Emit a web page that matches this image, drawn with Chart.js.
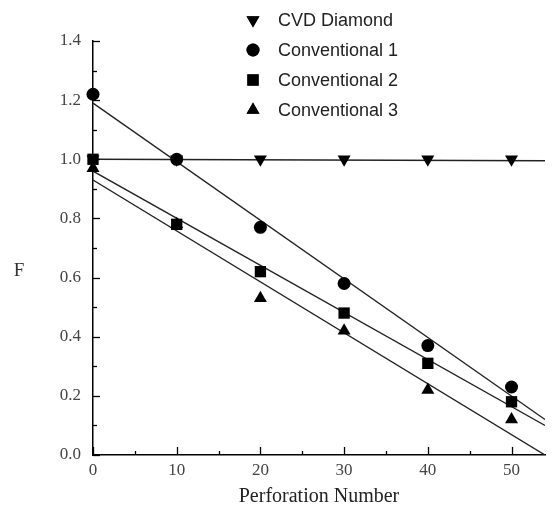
<!DOCTYPE html>
<html>
<head>
<meta charset="utf-8">
<script src="https://cdn.jsdelivr.net/npm/chart.js@4"></script>
<style>
  html, body { margin: 0; padding: 0; background: #fff; }
  #wrap { width: 553px; height: 520px; }
</style>
</head>
<body>
<div id="wrap"><canvas id="myChart" width="553" height="520"></canvas></div>
<script>
// data
const perforations = [0, 10, 20, 30, 40, 50];
const cvdDiamond = [1.0, 1.0, 1.0, 1.0, 1.0, 1.0];
const conventional1 = [1.22, 1.0, 0.77, 0.58, 0.37, 0.23];
const conventional2 = [1.0, 0.78, 0.62, 0.48, 0.31, 0.18];
const conventional3 = [0.97, 0.78, 0.53, 0.42, 0.22, 0.12];

// fitted lines, endpoints at x = 0 and x = 54
const fitX = [0, 54];
const fitCvd = [1.0, 0.995];
const fitConv1 = [1.19, 0.12];
const fitConv2 = [0.96, 0.10];
const fitConv3 = [0.93, 0.0];

const yTicks = [0, 0.2, 0.4, 0.6, 0.8, 1.0, 1.2, 1.4];
const xTicks = [0, 10, 20, 30, 40, 50];

const serif = "'Liberation Serif', 'Times New Roman', serif";

function pts(xs, ys) {
  return xs.map((x, i) => ({ x: x, y: ys[i] }));
}

const markerSizes = { circle: 6.5, rect: 8, triangle: 7.5 };

function markerSet(label, ys, style, rotation) {
  return {
    label: label,
    type: "scatter",
    data: pts(perforations, ys),
    pointStyle: style,
    rotation: rotation || 0,
    pointRadius: markerSizes[style],
    backgroundColor: "#000",
    borderColor: "#000",
    borderWidth: 0,
    showLine: false,
    clip: false,
  };
}

function fitSet(ys) {
  return {
    label: "",
    type: "line",
    data: pts(fitX, ys),
    borderColor: "#222",
    borderWidth: 1.4,
    pointRadius: 0,
    fill: false,
    isFit: true,
  };
}

// inward ticks, upright y title and legend
const decorPlugin = {
  id: "decor",
  afterDraw(chart) {
    const ctx = chart.ctx;
    const xs = chart.scales.x;
    const ys = chart.scales.y;
    const area = chart.chartArea;
    ctx.save();
    ctx.strokeStyle = "#000";
    ctx.lineWidth = 1.3;
    for (let v = 0; v <= 1.4001; v += 0.1) {
      const y = Math.round(ys.getPixelForValue(v)) + 0.5;
      const major = Math.round(v * 10) % 2 === 0;
      ctx.beginPath();
      ctx.moveTo(area.left, y);
      ctx.lineTo(area.left + (major ? 7 : 4), y);
      ctx.stroke();
    }
    for (let v = 0; v <= 50; v += 5) {
      const x = Math.round(xs.getPixelForValue(v)) + 0.5;
      const major = v % 10 === 0;
      ctx.beginPath();
      ctx.moveTo(x, area.bottom);
      ctx.lineTo(x, area.bottom - (major ? 8 : 4));
      ctx.stroke();
    }

    ctx.font = "19px " + serif;
    ctx.fillStyle = "#333";
    ctx.textAlign = "center";
    ctx.textBaseline = "middle";
    ctx.fillText("F", 19, 271);

    // legend
    const items = chart.data.datasets.filter((d) => !d.isFit);
    ctx.font = "18px 'Liberation Sans', Arial, sans-serif";
    ctx.textAlign = "left";
    const rows = [20, 50, 80, 110];
    items.forEach((d, i) => {
      const cy = rows[i];
      Chart.helpers.drawPoint(ctx, {
        pointStyle: d.pointStyle,
        rotation: d.rotation,
        radius: d.pointRadius,
        borderWidth: 0,
      }, 253, cy);
      ctx.fillStyle = "#000";
      ctx.fill();
      ctx.fillStyle = "#222";
      ctx.fillText(d.label, 278, cy + 1);
    });
    ctx.restore();
  },
};

new Chart(document.getElementById("myChart").getContext("2d"), {
  type: "scatter",
  data: {
    datasets: [
      markerSet("CVD Diamond", cvdDiamond, "triangle", 180),
      markerSet("Conventional 1", conventional1, "circle"),
      markerSet("Conventional 2", conventional2, "rect"),
      markerSet("Conventional 3", conventional3, "triangle"),
      fitSet(fitCvd),
      fitSet(fitConv1),
      fitSet(fitConv2),
      fitSet(fitConv3),
    ],
  },
  options: {
    responsive: false,
    animation: false,
    layout: { padding: { top: 41, right: 0, bottom: 0, left: 0 } },
    plugins: {
      legend: { display: false },
      tooltip: { enabled: false },
    },
    scales: {
      x: {
        type: "linear",
        min: 0,
        max: 54,
        afterFit(scale) { scale.height = 65; },
        afterBuildTicks(scale) { scale.ticks = xTicks.map((v) => ({ value: v })); },
        grid: { display: false, drawTicks: false },
        border: { display: true, color: "#000", width: 1.5 },
        ticks: {
          padding: 5,
          color: "#444",
          font: { family: serif, size: 17 },
        },
        title: {
          display: true,
          text: "Perforation Number",
          color: "#222",
          font: { family: serif, size: 20 },
          padding: { top: 4, bottom: 11 },
        },
      },
      y: {
        type: "linear",
        min: 0,
        max: 1.4,
        afterFit(scale) { scale.width = 93; },
        afterBuildTicks(scale) { scale.ticks = yTicks.map((v) => ({ value: v })); },
        grid: { display: false, drawTicks: false },
        border: { display: true, color: "#000", width: 1.5 },
        ticks: {
          padding: 12,
          color: "#444",
          font: { family: serif, size: 17 },
          callback: (v) => v.toFixed(1),
        },
      },
    },
  },
  plugins: [decorPlugin],
});
</script>
</body>
</html>
